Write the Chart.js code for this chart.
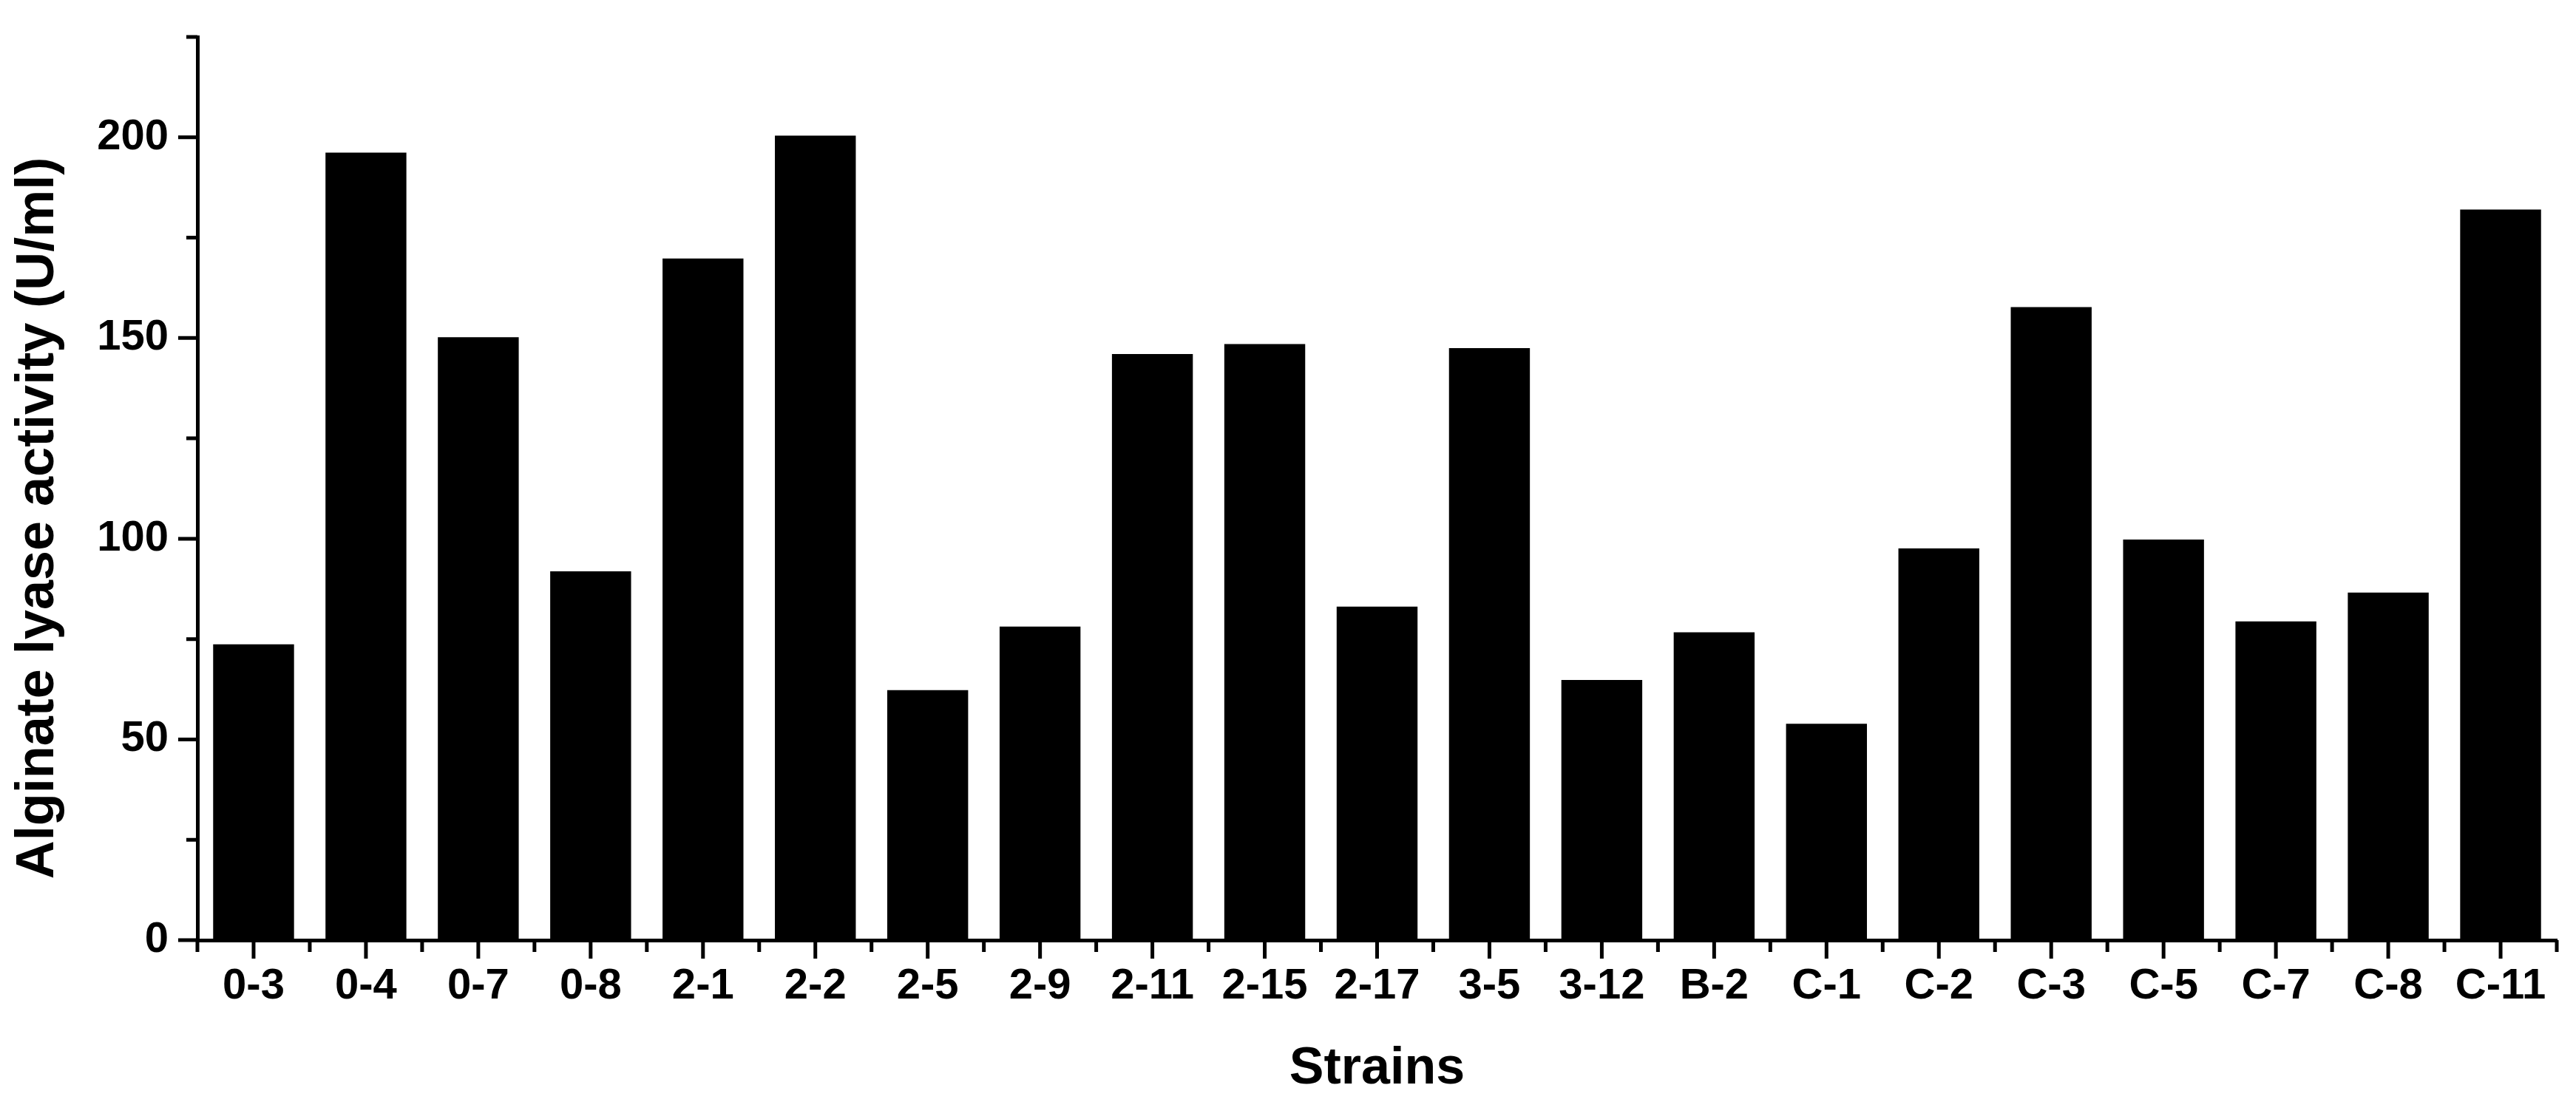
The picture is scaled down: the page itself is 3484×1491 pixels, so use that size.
<!DOCTYPE html>
<html>
<head>
<meta charset="utf-8">
<script src="https://cdn.jsdelivr.net/npm/chart.js@4.4.1/dist/chart.umd.min.js"></script>
<style>
  html, body { margin: 0; padding: 0; background: #fff; }
  #wrap { width: 3484px; height: 1491px; }
</style>
</head>
<body>
<div id="wrap"><canvas id="chart" width="3484" height="1491"></canvas></div>
<script>
/* ---------- data ---------- */
const STRAINS = ['0-3', '0-4', '0-7', '0-8', '2-1', '2-2', '2-5', '2-9', '2-11', '2-15', '2-17',
                 '3-5', '3-12', 'B-2', 'C-1', 'C-2', 'C-3', 'C-5', 'C-7', 'C-8', 'C-11'];
const ACTIVITY = [73.7, 196.2, 150.2, 91.9, 169.8, 200.4, 62.3, 78.1, 146.0, 148.5, 83.1,
                  147.5, 64.8, 76.7, 53.9, 97.6, 157.7, 99.8, 79.4, 86.6, 182.0];
const Y_MIN = 0;
const Y_MAX = 225;
const Y_MINOR_STEP = 25;   // unlabelled ticks
const Y_MAJOR_STEP = 50;   // labelled ticks

const FONT = "'Liberation Sans', Arial, Helvetica, sans-serif";

/* ---------- Origin-style tick marks (long major, short minor) ---------- */
const originTicks = {
    id: 'originTicks',
    afterDraw(chart) {
        const { ctx, chartArea: a, scales: { x, y } } = chart;
        ctx.save();
        ctx.strokeStyle = '#000';
        ctx.lineWidth = 5;
        ctx.beginPath();
        // y axis: major at 50s, minor at 25s
        for (let v = Y_MIN; v <= Y_MAX; v += Y_MINOR_STEP) {
            const py = y.getPixelForValue(v);
            const len = (v % Y_MAJOR_STEP === 0) ? 26 : 15;
            ctx.moveTo(a.left - len, py);
            ctx.lineTo(a.left, py);
        }
        // x axis: major at category centres, minor at boundaries
        for (let i = 0; i < STRAINS.length; i++) {
            const px = x.getPixelForValue(i);
            ctx.moveTo(px, a.bottom);
            ctx.lineTo(px, a.bottom + 25);
        }
        for (let i = 0; i <= STRAINS.length; i++) {
            const px = x.getPixelForValue(i - 0.5);
            ctx.moveTo(px, a.bottom);
            ctx.lineTo(px, a.bottom + 16);
        }
        ctx.stroke();
        ctx.restore();
    }
};

new Chart(document.getElementById('chart'), {
    type: 'bar',
    data: {
        labels: STRAINS,
        datasets: [{
            label: 'Alginate lyase activity',
            data: ACTIVITY,
            backgroundColor: '#000',
            borderWidth: 0,
            categoryPercentage: 1.0,
            barPercentage: 0.72
        }]
    },
    options: {
        responsive: false,
        animation: false,
        devicePixelRatio: 1,
        layout: { padding: { top: 50, right: 26, left: 0, bottom: 0 } },
        plugins: {
            legend: { display: false },
            tooltip: { enabled: false }
        },
        scales: {
            x: {
                offset: true,
                grid: { display: false, drawTicks: false },
                border: { display: true, color: '#000', width: 5 },
                ticks: {
                    color: '#000',
                    padding: 28,
                    maxRotation: 0,
                    autoSkip: false,
                    font: { family: FONT, size: 58, weight: 'bold' }
                },
                title: {
                    display: true,
                    text: 'Strains',
                    color: '#000',
                    padding: { top: 4, bottom: 2 },
                    font: { family: FONT, size: 70, weight: 'bold' }
                },
                afterFit(scale) { scale.height = 219; }
            },
            y: {
                min: Y_MIN,
                max: Y_MAX,
                grid: { display: false, drawTicks: false },
                border: { display: true, color: '#000', width: 5 },
                ticks: {
                    stepSize: Y_MINOR_STEP,
                    color: '#000',
                    padding: 39,
                    font: { family: FONT, size: 58, weight: 'bold' },
                    callback: v => (v % Y_MAJOR_STEP === 0 ? v : '')
                },
                title: {
                    display: true,
                    // trailing spaces nudge the centred title a little lower, as in the figure
                    text: 'Alginate lyase activity (U/ml)    ',
                    color: '#000',
                    padding: { top: 9, bottom: 0 },
                    font: { family: FONT, size: 72, weight: 'bold' }
                },
                afterFit(scale) {
                    scale.width = 267;
                    scale.paddingTop = 0;
                    scale.paddingBottom = 0;
                }
            }
        }
    },
    plugins: [originTicks]
});
</script>
</body>
</html>
